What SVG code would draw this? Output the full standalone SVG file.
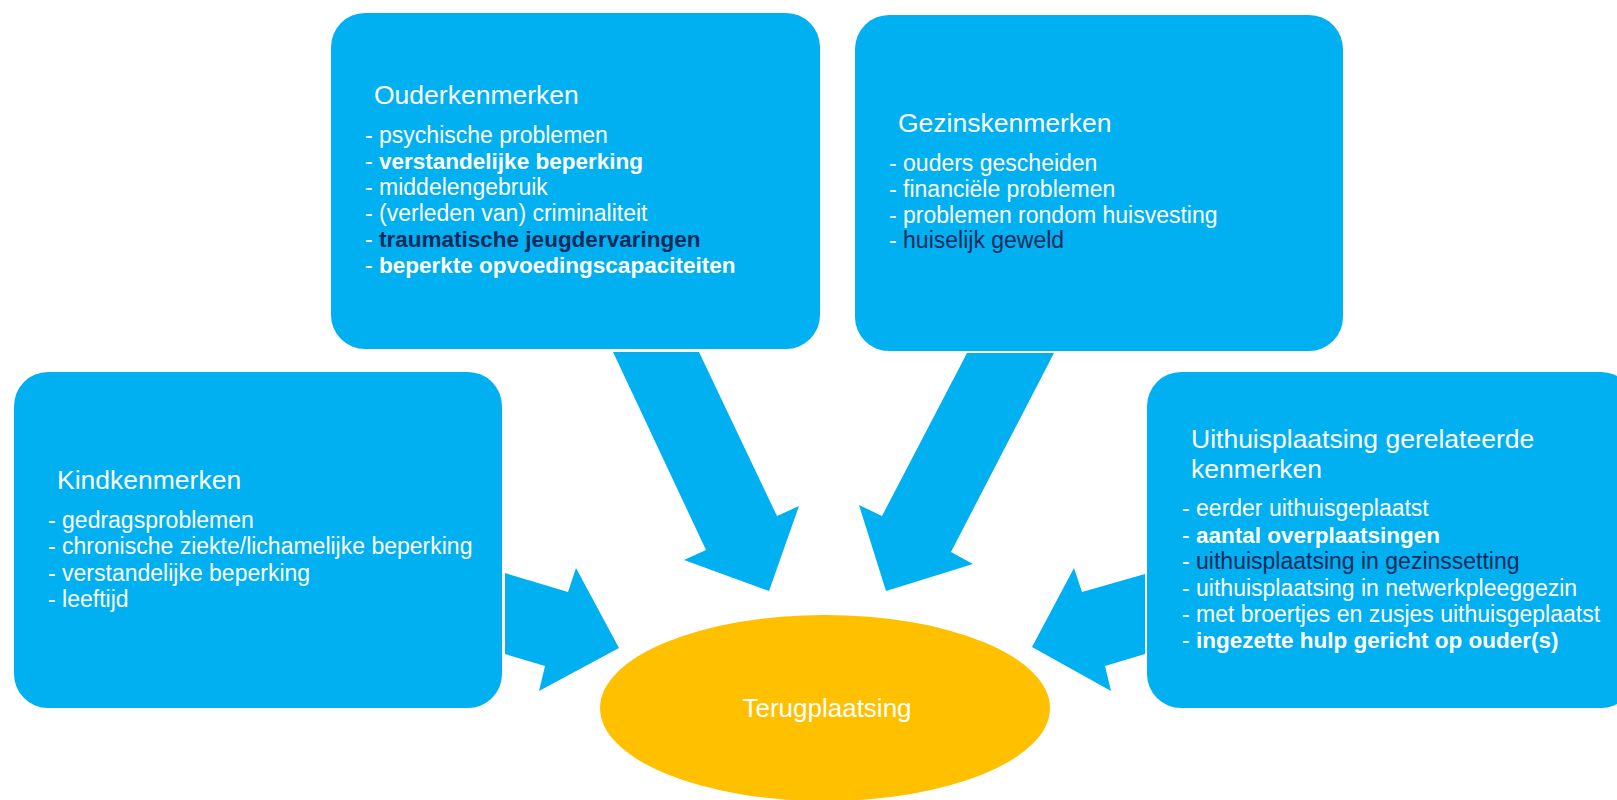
<svg xmlns="http://www.w3.org/2000/svg" width="1617" height="800" viewBox="0 0 1617 800">
<style>
.box{fill:#00B0F0}
.arrow{fill:#00B0F0}
.hd{font-family:"Liberation Sans",Arial,sans-serif;font-size:26.5px;fill:#FFFFFF}
.it{font-family:"Liberation Sans",Arial,sans-serif;font-size:23px;fill:#FFFFFF}
.b{font-weight:bold;font-size:22.5px}
.nv{fill:#0E2A5C}
.ct{font-family:"Liberation Sans",Arial,sans-serif;font-size:26px;fill:#FFFFFF}
</style>
<rect width="1617" height="800" fill="#FFFFFF"/>
<g id="connectors">
<polygon class="arrow" points="613,352 699,352 777,516 799,506 769,591 684,560 706,550"/>
<polygon class="arrow" points="967,353 1054,353 951,552 973,564 886,591 859,505 882,516"/>
<polygon class="arrow" points="505,573 568,592 576,568 619,648 539,691 545,666 505,654"/>
<polygon class="arrow" points="1145,574 1082,592 1074,568 1032,647 1111,691 1105,666 1145,654"/>
</g>
<g id="node-ouder">
<rect class="box" x="331" y="13" width="489" height="336" rx="34"/>
<text class="hd" x="374" y="104">Ouderkenmerken</text>
<text class="it" x="365" y="143">- psychische problemen</text>
<text class="it" x="365" y="169">- <tspan class="b">verstandelijke beperking</tspan></text>
<text class="it" x="365" y="195">- middelengebruik</text>
<text class="it" x="365" y="221">- (verleden van) criminaliteit</text>
<text class="it" x="365" y="247">- <tspan class="b nv">traumatische jeugdervaringen</tspan></text>
<text class="it" x="365" y="273">- <tspan class="b">beperkte opvoedingscapaciteiten</tspan></text>
</g>
<g id="node-gezin">
<rect class="box" x="855" y="15" width="488" height="336" rx="34"/>
<text class="hd" x="898" y="132">Gezinskenmerken</text>
<text class="it" x="889" y="171">- ouders gescheiden</text>
<text class="it" x="889" y="197">- financiële problemen</text>
<text class="it" x="889" y="223">- problemen rondom huisvesting</text>
<text class="it" x="889" y="248">- <tspan class="nv">huiselijk geweld</tspan></text>
</g>
<g id="node-kind">
<rect class="box" x="14" y="372" width="488" height="336" rx="34"/>
<text class="hd" x="57" y="489">Kindkenmerken</text>
<text class="it" x="48" y="528">- gedragsproblemen</text>
<text class="it" x="48" y="554">- chronische ziekte/lichamelijke beperking</text>
<text class="it" x="48" y="581">- verstandelijke beperking</text>
<text class="it" x="48" y="607">- leeftijd</text>
</g>
<g id="node-uithuis">
<rect class="box" x="1147" y="372" width="488" height="336" rx="34"/>
<text class="hd" x="1191" y="448">Uithuisplaatsing gerelateerde</text>
<text class="hd" x="1191" y="478">kenmerken</text>
<text class="it" x="1182" y="516">- eerder uithuisgeplaatst</text>
<text class="it" x="1182" y="543">- <tspan class="b">aantal overplaatsingen</tspan></text>
<text class="it" x="1182" y="569">- <tspan class="nv">uithuisplaatsing in gezinssetting</tspan></text>
<text class="it" x="1182" y="596">- uithuisplaatsing in netwerkpleeggezin</text>
<text class="it" x="1182" y="622">- met broertjes en zusjes uithuisgeplaatst</text>
<text class="it" x="1182" y="648">- <tspan class="b">ingezette hulp gericht op ouder(s)</tspan></text>
</g>
<g id="node-terugplaatsing">
<ellipse cx="825" cy="708" rx="225" ry="93" fill="#FFC000"/>
<text class="ct" x="827" y="717" text-anchor="middle">Terugplaatsing</text>
</g>
</svg>
